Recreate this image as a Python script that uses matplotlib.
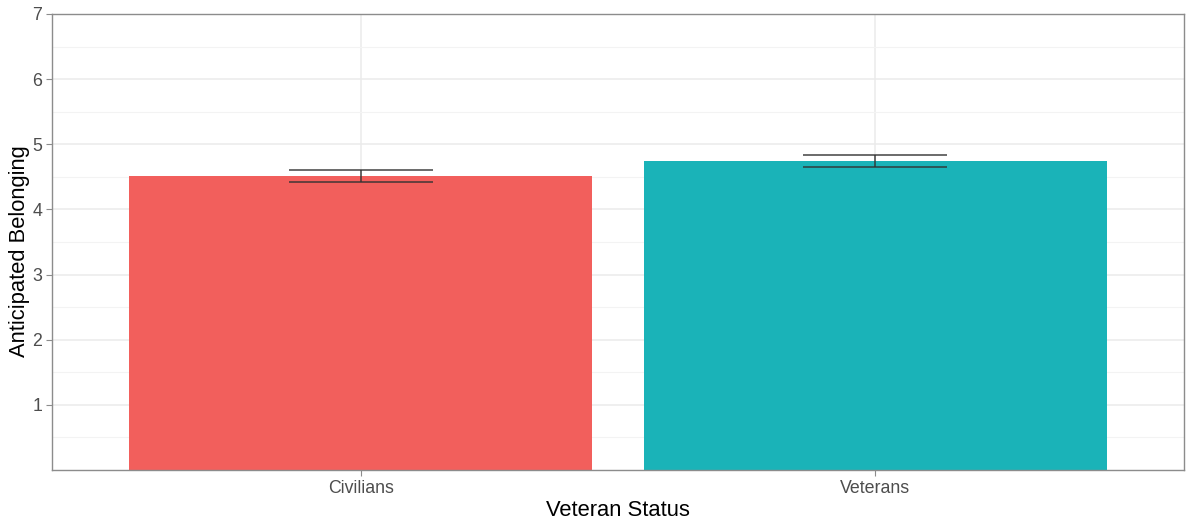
import numpy as np
import matplotlib.pyplot as plt
from matplotlib.ticker import MultipleLocator

# group means and standard errors
groups = ["Civilians", "Veterans"]
means = [4.51, 4.74]
errors = [0.09, 0.09]
bar_colors = ["#F25F5C", "#1AB3B8"]

plt.rcParams['font.family'] = ['Liberation Sans', 'DejaVu Sans']

fig = plt.figure(figsize=(11.87, 5.19), dpi=100)
ax = fig.add_axes([52 / 1187, 49 / 519, 1132 / 1187, 456 / 519])

x = np.arange(1, len(groups) + 1)
ax.bar(x, means, width=0.9, color=bar_colors, zorder=2)
ax.errorbar(x, means, yerr=errors, fmt="none", ecolor="#333333", elinewidth=1.2,
            capsize=52, capthick=1.2, alpha=0.85, zorder=3)

ax.set_xlim(0.4, 2.6)
ax.set_ylim(0, 7)
ax.set_xticks(x)
ax.set_xticklabels(groups)
ax.set_yticks(range(1, 8))
ax.yaxis.set_minor_locator(MultipleLocator(0.5))

# light grid like ggplot's bw theme
ax.grid(True, which="major", color="#EBEBEB", linewidth=1.1, zorder=0)
ax.grid(True, which="minor", axis="y", color="#F3F3F3", linewidth=0.8, zorder=0)
ax.set_axisbelow(True)

for s in ax.spines.values():
    s.set_color("#8C8C8C")
    s.set_linewidth(1.0)

ax.tick_params(which="major", length=4, color="#8C8C8C", labelcolor="#4D4D4D",
               labelsize=12.8, pad=3)
ax.tick_params(which="minor", length=0)

ax.set_xlabel("Veteran Status", fontsize=15.8, labelpad=2)
ax.set_ylabel("Anticipated Belonging", fontsize=15.8, labelpad=2)
ax.yaxis.set_label_coords(-0.0195, 0.48)

fig.savefig("out.png", dpi=100)
